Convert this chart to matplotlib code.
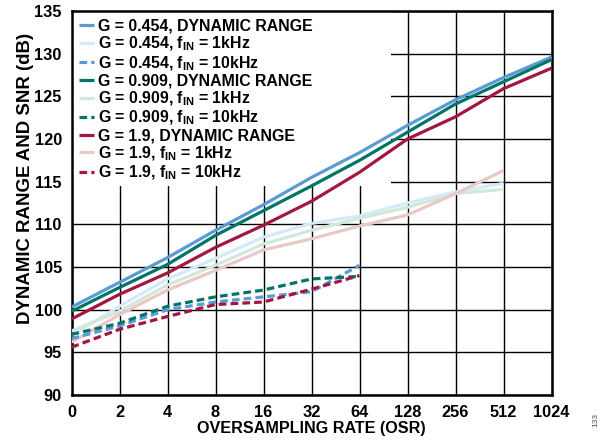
import matplotlib
matplotlib.use("Agg")
import matplotlib.pyplot as plt
from matplotlib.patches import Rectangle

plt.rcParams['font.family'] = ['Liberation Sans', 'DejaVu Sans']
plt.rcParams['font.weight'] = 'bold'
plt.rcParams['mathtext.fontset'] = 'custom'
plt.rcParams['mathtext.rm'] = 'Liberation Sans:bold'
plt.rcParams['mathtext.it'] = 'Liberation Sans:bold'
plt.rcParams['mathtext.bf'] = 'Liberation Sans:bold'

osr_labels = ['0', '2', '4', '8', '16', '32', '64', '128', '256', '512', '1024']

dr_0454 = [100.3, 103.2, 106.1, 109.3, 112.3, 115.5, 118.4, 121.6, 124.6, 127.2, 129.6]
k1_0454 = [97.0, 100.4, 103.6, 106.0, 108.5, 110.1, 111.0, 112.5, 113.8, 114.8]
k10_0454 = [96.6, 98.1, 100.0, 100.9, 101.5, 102.1, 105.2]

dr_0909 = [99.8, 102.6, 105.3, 108.7, 111.6, 114.5, 117.5, 120.8, 124.1, 126.7, 129.3]
k1_0909 = [97.5, 99.8, 102.9, 105.2, 107.7, 109.3, 110.7, 112.0, 113.6, 114.1]
k10_0909 = [97.1, 98.4, 100.4, 101.5, 102.3, 103.6, 103.9]

dr_19 = [98.9, 101.8, 104.3, 107.3, 109.9, 112.7, 116.1, 120.0, 122.6, 125.9, 128.3]
k1_19 = [96.2, 99.4, 102.3, 104.6, 107.0, 108.3, 109.8, 111.1, 113.6, 116.3]
k10_19 = [95.6, 97.7, 99.2, 100.6, 100.9, 102.4, 104.0]

c_blue = '#5b9bd5'
c_lblue = '#d5eaf8'
c_teal = '#007566'
c_lgreen = '#d2e8da'
c_red = '#a3163f'
c_pink = '#e8c9c8'

fig = plt.figure(figsize=(6.04, 4.46), dpi=100)
ax = fig.add_axes([71.5/604, 1-395/446, 480/604, 384/446])

x_all = list(range(len(osr_labels)))
lw = 2.3
dash = (0, (2.4, 1.3))

series = [
    (dr_0454, c_blue, '-', 'G = 0.454, DYNAMIC RANGE'),
    (k1_0454, c_lblue, '-', 'G = 0.454, $f_{IN}$ = 1kHz'),
    (k10_0454, c_blue, dash, 'G = 0.454, $f_{IN}$ = 10kHz'),
    (dr_0909, c_teal, '-', 'G = 0.909, DYNAMIC RANGE'),
    (k1_0909, c_lgreen, '-', 'G = 0.909, $f_{IN}$ = 1kHz'),
    (k10_0909, c_teal, dash, 'G = 0.909, $f_{IN}$ = 10kHz'),
    (dr_19, c_red, '-', 'G = 1.9, DYNAMIC RANGE'),
    (k1_19, c_pink, '-', 'G = 1.9, $f_{IN}$ = 1kHz'),
    (k10_19, c_red, dash, 'G = 1.9, $f_{IN}$ = 10kHz'),
]
order = [1, 4, 7, 2, 5, 8, 0, 3, 6]
handles = {}
for i in order:
    vals, col, ls, lab = series[i]
    h, = ax.plot(x_all[:len(vals)], vals, color=col, linestyle=ls, lw=lw,
                 label=lab, zorder=3, solid_capstyle='butt')
    handles[i] = h

ax.set_xlim(0, 10)
ax.set_ylim(90, 135)
ax.set_xticks(x_all)
ax.set_xticklabels(osr_labels)
ax.set_yticks(range(90, 136, 5))
ax.tick_params(length=0, labelsize=11.8)
ax.tick_params(axis='x', pad=7)
ax.tick_params(axis='y', pad=7)
for lab in ax.get_xticklabels() + ax.get_yticklabels():
    lab.set_fontweight('bold')
ax.grid(True, color='black', lw=1.0)
ax.set_axisbelow(True)
for s in ax.spines.values():
    s.set_linewidth(1.8)
    s.set_color('black')

ax.add_patch(Rectangle((0, (395-186)/384), (391-71.5)/480, 1-(395-186)/384,
                       transform=ax.transAxes, facecolor='white',
                       edgecolor='none', zorder=1))

ax.set_xlabel('OVERSAMPLING RATE (OSR)', fontsize=11.6, fontweight='bold', labelpad=1.0)
ax.set_ylabel('DYNAMIC RANGE AND SNR (dB)', fontsize=13.4, fontweight='bold')
ax.yaxis.set_label_coords((34.5 - 71.5) / 480, (395 - 178) / 384)

leg = ax.legend([handles[i] for i in range(9)], [series[i][3] for i in range(9)],
                loc='upper left', frameon=False,
                handlelength=0.95, handletextpad=0.25, labelspacing=0.06,
                borderaxespad=0.3, borderpad=0.2,
                prop={'weight': 'bold', 'size': 11.4})

fig.text(596/604, 1-420/446, '133', rotation=90, fontsize=6, color='#555555',
         fontweight='normal', ha='center', va='center')

fig.savefig('out.png', dpi=100)
